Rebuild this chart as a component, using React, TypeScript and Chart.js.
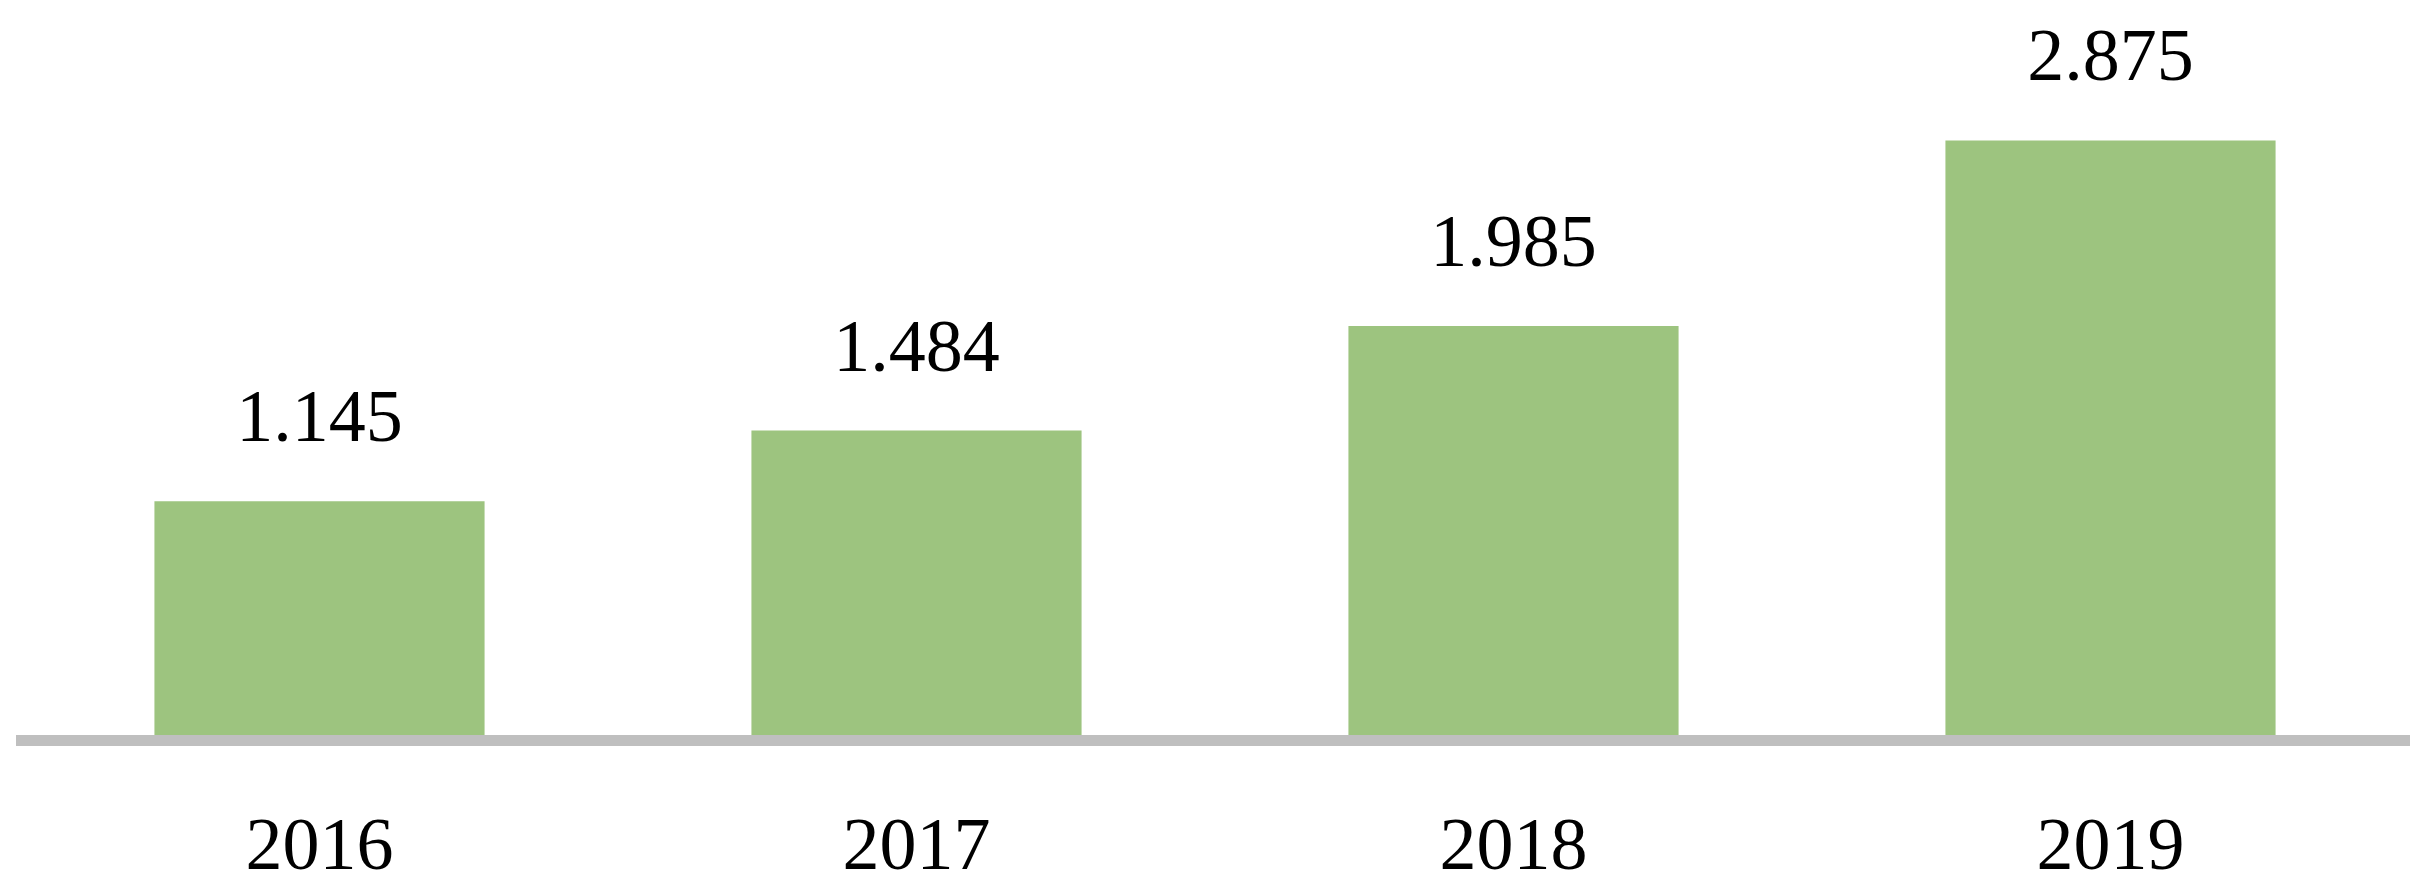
import React, { useEffect, useRef } from "react";
import { Chart, registerables } from "chart.js";

Chart.register(...registerables);

const categories = ["2016", "2017", "2018", "2019"];
const values = [1.145, 1.484, 1.985, 2.875];

const FONT = '"Liberation Serif", "Times New Roman", serif';
const BAR_COLOR = "#9DC47F";
const AXIS_COLOR = "#BFBFBF";

const valueLabelPlugin = {
  id: "valueLabels",
  afterDatasetsDraw(chart: any) {
    const ctx = chart.ctx;
    const meta = chart.getDatasetMeta(0);
    ctx.save();
    ctx.font = `74px ${FONT}`;
    ctx.fillStyle = "#000000";
    ctx.textAlign = "center";
    ctx.textBaseline = "alphabetic";
    meta.data.forEach((bar: any, i: number) => {
      const v = chart.data.datasets[0].data[i] as number;
      ctx.fillText(v.toFixed(3), bar.x, bar.y - 60);
    });
    ctx.restore();
  },
};

export default function App() {
  const canvasRef = useRef<HTMLCanvasElement | null>(null);

  useEffect(() => {
    document.body.style.margin = "0";
    const canvas = canvasRef.current;
    if (!canvas) return;
    const chart = new Chart(canvas, {
      type: "bar",
      data: {
        labels: categories,
        datasets: [
          {
            data: values,
            backgroundColor: BAR_COLOR,
            borderWidth: 0,
            categoryPercentage: 1,
            barPercentage: 0.553,
          },
        ],
      },
      options: {
        animation: false,
        responsive: false,
        devicePixelRatio: 1,
        layout: { padding: { left: 21, right: 20, top: 10, bottom: -72 } },
        plugins: {
          legend: { display: false },
          tooltip: { enabled: false },
          title: { display: false },
        },
        scales: {
          x: {
            grid: { display: false, drawTicks: false },
            border: { display: true, color: AXIS_COLOR, width: 11, z: 1 },
            ticks: {
              color: "#000000",
              font: { family: FONT, size: 74 },
              padding: 65,
              maxRotation: 0,
            },
          },
          y: {
            display: false,
            min: 0,
            max: 3.5,
          },
        },
      },
      plugins: [valueLabelPlugin],
    });
    return () => chart.destroy();
  }, []);

  return (
    <div style={{ width: 2429, height: 887 }}>
      <canvas ref={canvasRef} width={2429} height={887} />
    </div>
  );
}
